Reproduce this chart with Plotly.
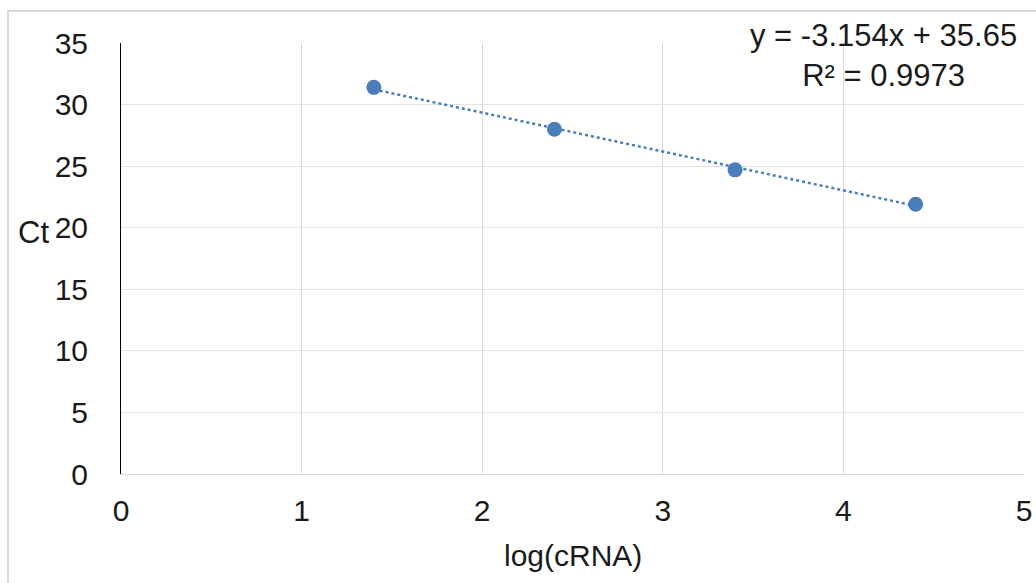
import plotly.graph_objects as go

log_crna = [1.4, 2.4, 3.4, 4.4]
ct = [31.4, 28.0, 24.7, 21.9]
slope = -3.154
intercept = 35.65
r2 = 0.9973

W, H = 1036, 583
L, R, T, B = 121, 12, 43, 109
pw, ph = W - L - R, H - T - B

def px_x(p):
    return (p - L) / pw

def px_y(p):
    return (H - B - p) / ph

trend_x = [min(log_crna), max(log_crna)]
trend_y = [slope * v + intercept for v in trend_x]

fig = go.Figure()
fig.add_trace(go.Scatter(x=trend_x, y=trend_y, mode="lines",
                         line=dict(color="#4a7ebb", width=2.5, dash="dot"),
                         hoverinfo="skip", showlegend=False))
fig.add_trace(go.Scatter(x=log_crna, y=ct, mode="markers",
                         marker=dict(color="#4a7ebb", size=15),
                         showlegend=False))

font = "Liberation Sans, Arial, sans-serif"
fig.update_layout(
    width=W, height=H,
    margin=dict(l=L, r=R, t=T, b=B),
    paper_bgcolor="white", plot_bgcolor="white",
    font=dict(family=font, size=30, color="#1a1a1a"),
    xaxis=dict(range=[0, 5], dtick=1, showgrid=True, gridcolor="#d9d9d9", gridwidth=1,
               showline=True, linecolor="#d9d9d9", linewidth=1, zeroline=False,
               ticks="", ticklabelstandoff=10, tickfont=dict(size=30), automargin=False),
    yaxis=dict(range=[0, 35], dtick=5, showgrid=True, gridcolor="#e3e3e3", gridwidth=1,
               showline=True, linecolor="black", linewidth=1, zeroline=False,
               ticks="", ticklabelstandoff=26, tickfont=dict(size=30), automargin=False),
    shapes=[dict(type="rect", xref="paper", yref="paper",
                 x0=px_x(8), x1=px_x(1060), y0=px_y(600), y1=px_y(11),
                 line=dict(color="#d9d9d9", width=2), fillcolor="rgba(0,0,0,0)",
                 layer="below")],
    annotations=[
        dict(text="Ct", xref="paper", yref="paper", x=px_x(33), y=px_y(232),
             showarrow=False, font=dict(size=31), xanchor="center", yanchor="middle"),
        dict(text="log(cRNA)", xref="paper", yref="paper", x=px_x(573), y=px_y(555),
             showarrow=False, font=dict(size=30), xanchor="center", yanchor="middle"),
        dict(text=f"y = {slope}x + {intercept}<br>R² = {r2}", xref="paper", yref="paper",
             x=px_x(883), y=px_y(55), showarrow=False, font=dict(size=31),
             xanchor="center", yanchor="middle", align="center"),
    ],
)

fig.write_html("out.html")
